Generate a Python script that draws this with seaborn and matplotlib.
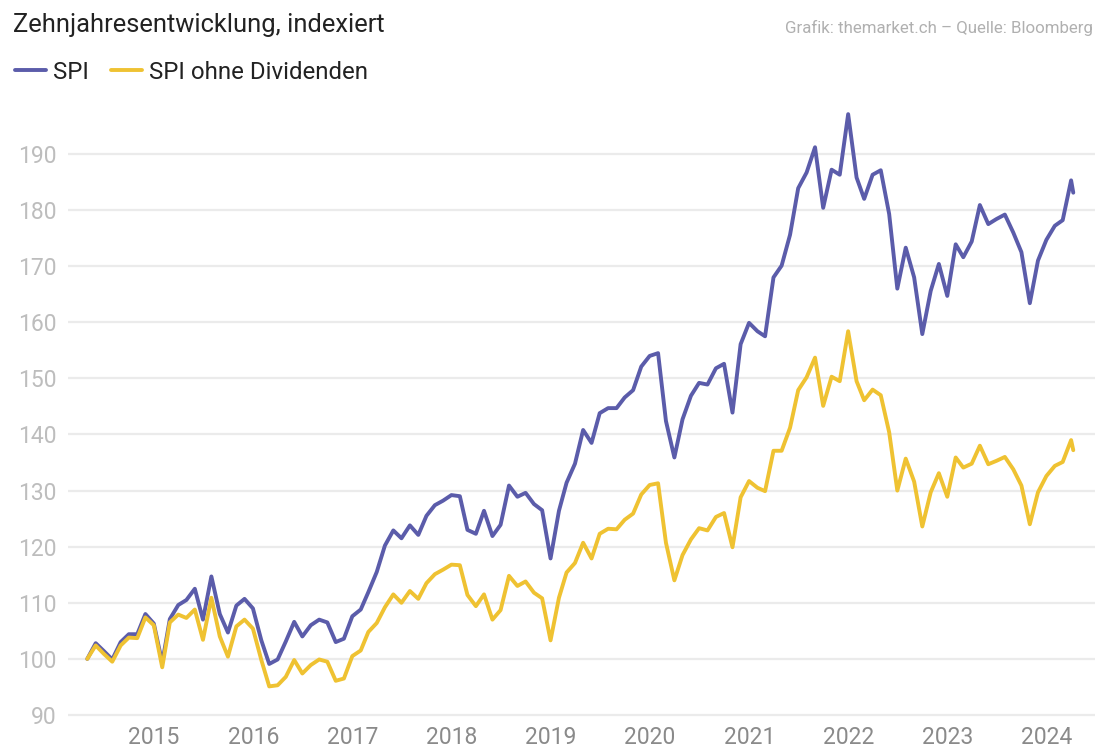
import matplotlib
matplotlib.use("Agg")
import matplotlib.pyplot as plt
import matplotlib.dates as mdates
import seaborn as sns
import pandas as pd

# monthly closes, April 2014 to March 2024, plus the last (partial) point
dates = list(pd.date_range("2014-04-30", periods=120, freq="ME")) + [pd.Timestamp("2024-04-08")]

spi = [
    100.0, 102.8, 101.4, 99.9, 103.0, 104.4, 104.4, 108.0, 106.3,
    99.3, 107.1, 109.6, 110.5, 112.5, 107.0, 114.7, 108.0, 104.7, 109.5, 110.7, 109.0,
    103.3, 99.1, 99.9, 103.1, 106.6, 104.0, 106.0, 107.0, 106.5, 103.0, 103.6, 107.6,
    108.8, 111.9, 115.5, 120.2, 122.9, 121.5, 123.8, 122.1, 125.5, 127.4, 128.2, 129.2,
    129.0, 123.0, 122.3, 126.4, 121.9, 123.9, 130.9, 128.9, 129.6, 127.6, 126.5, 117.9,
    126.4, 131.4, 134.8, 140.8, 138.5, 143.8, 144.7, 144.7, 146.6, 147.9, 152.1, 154.0,
    154.5, 142.4, 135.9, 142.7, 146.9, 149.2, 148.9, 151.8, 152.6, 143.9, 156.1, 159.9,
    158.4, 157.5, 168.0, 170.1, 175.6, 183.9, 186.7, 191.2, 180.4, 187.2, 186.3, 197.1,
    185.8, 182.0, 186.3, 187.1, 179.3, 166.0, 173.3, 168.0, 157.9, 165.6, 170.4, 164.7,
    173.9, 171.6, 174.4, 180.9, 177.5, 178.4, 179.2, 176.0, 172.5, 163.4, 171.0, 174.7,
    177.2, 178.2, 185.3, 183.1,
]

spi_ohne = [
    100.0, 102.4, 100.9, 99.5, 102.4, 103.8, 103.7, 107.4, 106.0,
    98.5, 106.5, 107.9, 107.3, 108.8, 103.4, 110.9, 104.0, 100.4, 105.8, 107.0, 105.4,
    99.8, 95.1, 95.3, 96.8, 99.8, 97.4, 98.9, 99.9, 99.5, 96.1, 96.5, 100.5,
    101.5, 104.8, 106.4, 109.2, 111.5, 110.0, 112.1, 110.7, 113.5, 115.1, 115.9, 116.8,
    116.7, 111.4, 109.4, 111.5, 107.0, 108.7, 114.8, 113.0, 113.8, 111.8, 110.8, 103.3,
    110.9, 115.4, 117.1, 120.7, 117.9, 122.3, 123.2, 123.1, 124.8, 125.9, 129.3, 131.0,
    131.3, 120.7, 114.0, 118.5, 121.3, 123.3, 122.9, 125.3, 126.0, 119.9, 128.8, 131.7,
    130.5, 129.9, 137.1, 137.1, 141.2, 147.9, 150.2, 153.7, 145.1, 150.3, 149.5, 158.4,
    149.5, 146.1, 148.0, 147.0, 140.4, 130.0, 135.7, 131.6, 123.6, 129.7, 133.1, 128.9,
    135.9, 134.1, 134.8, 138.0, 134.7, 135.3, 136.0, 133.8, 130.9, 124.0, 129.7, 132.6,
    134.4, 135.1, 139.0, 137.2,
]

series_names = ["SPI", "SPI ohne Dividenden"]
colors = ["#5b5caa", "#efc232"]
y_ticks = [90, 100, 110, 120, 130, 140, 150, 160, 170, 180, 190]

df = pd.concat([
    pd.DataFrame({"Datum": dates, "Index": spi, "Serie": series_names[0]}),
    pd.DataFrame({"Datum": dates, "Index": spi_ohne, "Serie": series_names[1]}),
])

sns.set_theme(style="white")
plt.rcParams["font.family"] = ["Roboto", "DejaVu Sans"]

fig = plt.figure(figsize=(10.95, 7.51), dpi=100)
ax = fig.add_axes([0.0621, 0.0442, 0.9379, 0.818])

sns.lineplot(data=df, x="Datum", y="Index", hue="Serie", hue_order=series_names,
             palette=colors, linewidth=2.8, ax=ax, estimator=None, sort=False)

ax.set_xlim(pd.Timestamp("2014-02-18"), pd.Timestamp("2024-06-27"))
ax.set_ylim(89.5, 199)
ax.set_yticks(y_ticks)
ax.yaxis.grid(True, color="#ebebeb", linewidth=1.6)
ax.xaxis.grid(False)
ax.set_axisbelow(True)
for s in ax.spines.values():
    s.set_visible(False)

ax.xaxis.set_major_locator(mdates.YearLocator())
ax.xaxis.set_major_formatter(mdates.DateFormatter("%Y"))
ax.tick_params(axis="y", length=0, pad=8, labelsize=16.5, labelcolor="#bdbdbd")
ax.tick_params(axis="x", length=0, pad=6, labelsize=16.5, labelcolor="#8a8a8a")
ax.set_xlabel("")
ax.set_ylabel("")

# legend in the header
handles, labels = ax.get_legend_handles_labels()
ax.legend(handles, labels, loc="center left", bbox_to_anchor=(-0.006, 0.904),
          bbox_transform=fig.transFigure, ncol=2, frameon=False, fontsize=17.3,
          handlelength=1.3, handletextpad=0.3, columnspacing=0.9, labelcolor="#222222")

fig.text(0.012, 0.967, "Zehnjahresentwicklung, indexiert", fontsize=18.4,
         color="#222222", ha="left", va="center")
fig.text(0.998, 0.963, "Grafik: themarket.ch \u2013 Quelle: Bloomberg", fontsize=12.2,
         color="#b0b0b0", ha="right", va="center")

fig.savefig("out.png", dpi=100)
